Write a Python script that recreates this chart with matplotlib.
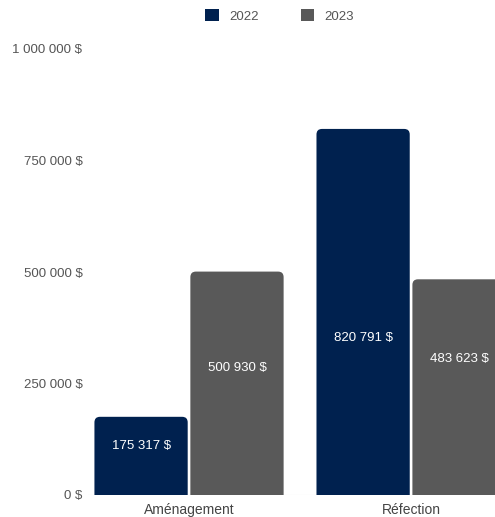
import numpy as np
import matplotlib
matplotlib.use("Agg")
import matplotlib.pyplot as plt
from matplotlib.patches import FancyBboxPatch, Patch

plt.rcParams["font.family"] = ["Liberation Sans", "DejaVu Sans"]

# data
categories = ["Aménagement", "Réfection"]
years = ["2022", "2023"]
values_2022 = [175317, 820791]
values_2023 = [500930, 483623]
y_ticks = [0, 250000, 500000, 750000, 1000000]

colors = ["#00214f", "#595959"]
# where each value label sits, as a fraction of bar height
label_frac = [[0.63, 0.43], [0.57, 0.63]]


def fmt(v):
    return "{:,}".format(v).replace(",", " ") + " $"


fig = plt.figure(figsize=(4.95, 5.17), dpi=100)
ax = fig.add_axes([88 / 495, 22 / 517, (495 - 88) / 495, 446 / 517])

x = np.arange(len(categories))
width = 0.42
offset = 0.216
ax.set_xlim(-0.455, 1.378)
ax.set_ylim(0, 1000000)

# rounded tops: radius in x data units and aspect to keep it round in pixels
r = 0.025
aspect = (1000000 / 446) * 222

for i, (vals, col) in enumerate(zip([values_2022, values_2023], colors)):
    xs = x + (i * 2 - 1) * offset
    bars = ax.bar(xs, vals, width, color=col)
    for j, b in enumerate(bars):
        b.set_visible(False)
        low = -r * aspect * 2
        box = FancyBboxPatch((b.get_x(), low), b.get_width(), vals[j] - low,
                             boxstyle="round,pad=0,rounding_size=%f" % r,
                             mutation_aspect=aspect, facecolor=col, edgecolor="none")
        ax.add_patch(box)
        ax.text(b.get_x() + b.get_width() / 2, vals[j] * label_frac[i][j], fmt(vals[j]),
                ha="center", va="center", color="white", fontsize=9.5)

ax.set_yticks(y_ticks)
ax.set_yticklabels([fmt(t) for t in y_ticks])
ax.set_xticks(x)
ax.set_xticklabels(categories)
ax.tick_params(axis="y", length=0, labelsize=9.5, labelcolor="#555555", pad=4)
ax.tick_params(axis="x", length=0, labelsize=10, labelcolor="#444444", pad=6)
for s in ax.spines.values():
    s.set_visible(False)
ax.axhline(0, color="#dddddd", lw=0.8, zorder=0)

handles = [Patch(facecolor=c, label=y) for c, y in zip(colors, years)]
fig.legend(handles=handles, loc="center", bbox_to_anchor=(0.565, 0.969), ncol=2,
           frameon=False, fontsize=9.5, handlelength=1.0, handleheight=1.0,
           columnspacing=3.2, labelcolor="#555555")

fig.savefig("out.png", dpi=100)
